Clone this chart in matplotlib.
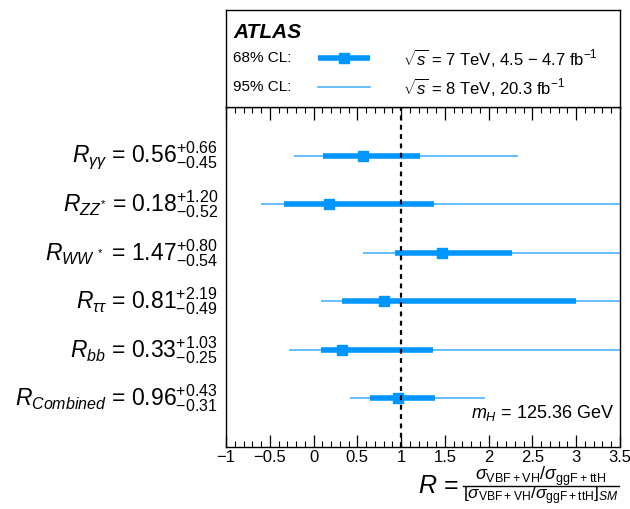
import numpy as np
import matplotlib
matplotlib.use('Agg')
import matplotlib.pyplot as plt
from matplotlib.ticker import MultipleLocator
from matplotlib.lines import Line2D

plt.rcParams['font.family'] = ['Liberation Sans', 'DejaVu Sans']
plt.rcParams['mathtext.fontset'] = 'custom'
plt.rcParams['mathtext.rm'] = 'Liberation Sans'
plt.rcParams['mathtext.it'] = 'Liberation Sans:italic'
plt.rcParams['mathtext.bf'] = 'Liberation Sans:bold'

# datos (de arriba hacia abajo)
channels = [r'\gamma\gamma', r'ZZ^{*}', r'WW^{\ *}', r'\tau\tau', r'bb', r'\mathit{Combined}']
central = [0.56, 0.18, 1.47, 0.81, 0.33, 0.96]
err_up = [0.66, 1.20, 0.80, 2.19, 1.03, 0.43]
err_down = [0.45, 0.52, 0.54, 0.49, 0.25, 0.31]
low95 = [-0.22, -0.60, 0.56, 0.09, -0.28, 0.42]
high95 = [2.33, 4.0, 4.0, 4.0, 4.0, 1.96]
tick_vals = [-1, -0.5, 0, 0.5, 1, 1.5, 2, 2.5, 3, 3.5]
tick_text = ['\u22121', '\u22120.5', '0', '0.5', '1', '1.5', '2', '2.5', '3', '3.5']

thick_color = '#0096ff'
thin_color = '#3aabff'

fig = plt.figure(figsize=(6.3, 5.09), dpi=100)
ax = fig.add_axes([226 / 630, 62 / 509, 394 / 630, 340 / 509])

n = len(channels)
ypos = np.arange(n, 0, -1)
for i in range(n):
    y = ypos[i]
    ax.plot([low95[i], high95[i]], [y, y], color=thin_color, lw=1.1, solid_capstyle='butt', zorder=2)
    ax.plot([central[i] - err_down[i], central[i] + err_up[i]], [y, y], color=thick_color, lw=4,
            solid_capstyle='butt', zorder=3)
    ax.plot(central[i], y, marker='s', ms=7.5, color=thick_color, zorder=4)
    lbl = r'$R_{%s}$ = ${%.2f}^{+%.2f}_{-%.2f}$' % (channels[i], central[i], err_up[i], err_down[i])
    fig.text(218 / 630, 1 - (107 + 340 * (7 - y) / 7) / 509, lbl, ha='right', va='center', fontsize=16.5)

ax.axvline(1, color='black', ls=(0, (2.2, 2)), lw=1.6, zorder=5)

ax.set_xlim(-1, 3.5)
ax.set_ylim(0, 7)
ax.set_yticks([])
ax.set_xticks(tick_vals)
ax.set_xticklabels(tick_text)
ax.xaxis.set_minor_locator(MultipleLocator(0.1))
ax.tick_params(axis='x', which='both', direction='in', top=True, bottom=True, labelsize=12, pad=2.5)
ax.tick_params(axis='x', which='major', length=9, width=0.9)
ax.tick_params(axis='x', which='minor', length=4.5, width=0.8)
for s in ax.spines.values():
    s.set_linewidth(1.0)

ax.text(0.985, 0.10, r'$m_H$ = 125.36 GeV', transform=ax.transAxes, ha='right', va='center', fontsize=13)

# titulo del eje x como fraccion armada a mano
fig.text(418 / 630, 1 - 486 / 509, r'$R$ =', ha='left', va='center', fontsize=18)
fig.text(541 / 630, 1 - 476 / 509, r'$\sigma_{\mathrm{VBF+VH}}/\sigma_{\mathrm{ggF+ttH}}$',
         ha='center', va='center', fontsize=13)
fig.text(541 / 630, 1 - 496 / 509, r'$[\sigma_{\mathrm{VBF+VH}}/\sigma_{\mathrm{ggF+ttH}}]_{SM}$',
         ha='center', va='center', fontsize=12.5)
fig.add_artist(Line2D([463 / 630, 619 / 630], [1 - 486 / 509, 1 - 486 / 509], color='black', lw=1.0))

# caja de leyenda
lax = fig.add_axes([226 / 630, 1 - 107 / 509, 394 / 630, 97 / 509])
lax.set_xlim(0, 394)
lax.set_ylim(97, 0)
lax.set_xticks([])
lax.set_yticks([])
for s in lax.spines.values():
    s.set_linewidth(1.0)
lax.text(7, 22, 'ATLAS', fontsize=15, fontweight='bold', fontstyle='italic', va='center')
lax.text(7, 48, '68% CL:', fontsize=11, va='center')
lax.text(7, 77, '95% CL:', fontsize=11, va='center')
lax.plot([92, 144], [48, 48], color=thick_color, lw=4, solid_capstyle='butt')
lax.plot(118, 48, marker='s', ms=7.5, color=thick_color)
lax.plot([92, 144], [77, 77], color=thin_color, lw=1.1)
lax.text(177, 48, r'$\sqrt{s}$ = 7 TeV, 4.5 $-$ 4.7 fb$^{-1}$', fontsize=12, va='center')
lax.text(177, 77, r'$\sqrt{s}$ = 8 TeV, 20.3 fb$^{-1}$', fontsize=12, va='center')

fig.savefig('out.png', dpi=100)
